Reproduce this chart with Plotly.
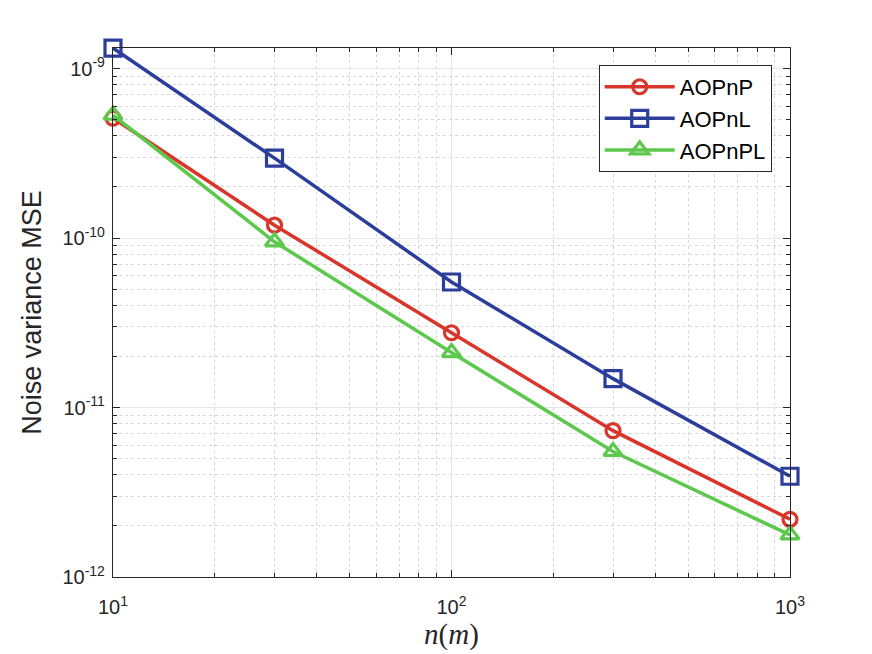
import plotly.graph_objects as go

# sample sizes and noise variance MSE per method
n_values = [10, 30, 100, 300, 1000]
mse_aopnp = [5.1e-10, 1.19e-10, 2.76e-11, 7.3e-12, 2.19e-12]
mse_aopnl = [1.32e-9, 2.96e-10, 5.5e-11, 1.48e-11, 3.93e-12]
mse_aopnpl = [5.3e-10, 9.5e-11, 2.11e-11, 5.5e-12, 1.77e-12]

x_ticks = [10, 100, 1000]
x_ticklabels = ["10<sup>1</sup>", "10<sup>2</sup>", "10<sup>3</sup>"]
y_ticks = [1e-12, 1e-11, 1e-10, 1e-9]
y_ticklabels = ["10<sup>-12</sup>", "10<sup>-11</sup>", "10<sup>-10</sup>", "10<sup>-9</sup>"]

x_minor = [m * 10 ** k for k in (1, 2) for m in range(2, 10)]
y_minor = [m * 10.0 ** k for k in (-12, -11, -10, -9) for m in range(2, 10)]

series = [
    ("AOPnP", mse_aopnp, "#D9352A", "circle-open", 14),
    ("AOPnL", mse_aopnl, "#2C3E9C", "square-open", 16),
    ("AOPnPL", mse_aopnpl, "#5CC94C", "triangle-up-open", 16),
]

fig = go.Figure()
for name, vals, color, symbol, size in series:
    fig.add_trace(go.Scatter(
        x=n_values, y=vals, name=name, mode="lines+markers",
        line=dict(color=color, width=3.5),
        marker=dict(symbol=symbol, size=size, color=color, line=dict(color=color, width=3.2)),
        cliponaxis=False,
    ))

axis_common = dict(
    type="log", showline=True, linecolor="#262626", linewidth=1.2, mirror="ticks",
    ticks="inside", ticklen=7, tickcolor="#262626", automargin=False,
    showgrid=True, gridcolor="#E6E6E6", gridwidth=1.2, zeroline=False,
    tickfont=dict(family="Liberation Sans, Arial, sans-serif", size=20, color="#262626"),
)

fig.update_xaxes(
    **axis_common,
    range=[1, 3], tickvals=x_ticks, ticktext=x_ticklabels, ticklabelstandoff=12,
    minor=dict(tickvals=x_minor, ticks="inside", ticklen=4, tickcolor="#262626",
               showgrid=True, gridcolor="#D8D8D8", griddash="dot", gridwidth=1),
    title=dict(text="<i>n</i>(<i>m</i>)", standoff=2,
               font=dict(family="Liberation Serif, Times New Roman, serif", size=29, color="#262626")),
)
fig.update_yaxes(
    **axis_common,
    range=[-12, -8.879], tickvals=y_ticks, ticktext=y_ticklabels, ticklabelstandoff=3,
    minor=dict(tickvals=y_minor, ticks="inside", ticklen=4, tickcolor="#262626",
               showgrid=True, gridcolor="#D8D8D8", griddash="dot", gridwidth=1),
    title=dict(text="Noise variance MSE", standoff=12,
               font=dict(family="Liberation Sans, Arial, sans-serif", size=27, color="#262626")),
)

# the page body adds an 8 px offset, so the figure is a little smaller
fig.update_layout(
    width=864, height=646,
    margin=dict(l=105, r=82, t=40, b=77),
    plot_bgcolor="white", paper_bgcolor="white",
    legend=dict(
        x=0.973, y=0.968, xanchor="right", yanchor="top",
        bgcolor="white", bordercolor="#262626", borderwidth=1,
        font=dict(family="Liberation Sans, Arial, sans-serif", size=22, color="black"),
        itemwidth=70, tracegroupgap=0,
    ),
    showlegend=True,
)

fig.write_html("out.html")
